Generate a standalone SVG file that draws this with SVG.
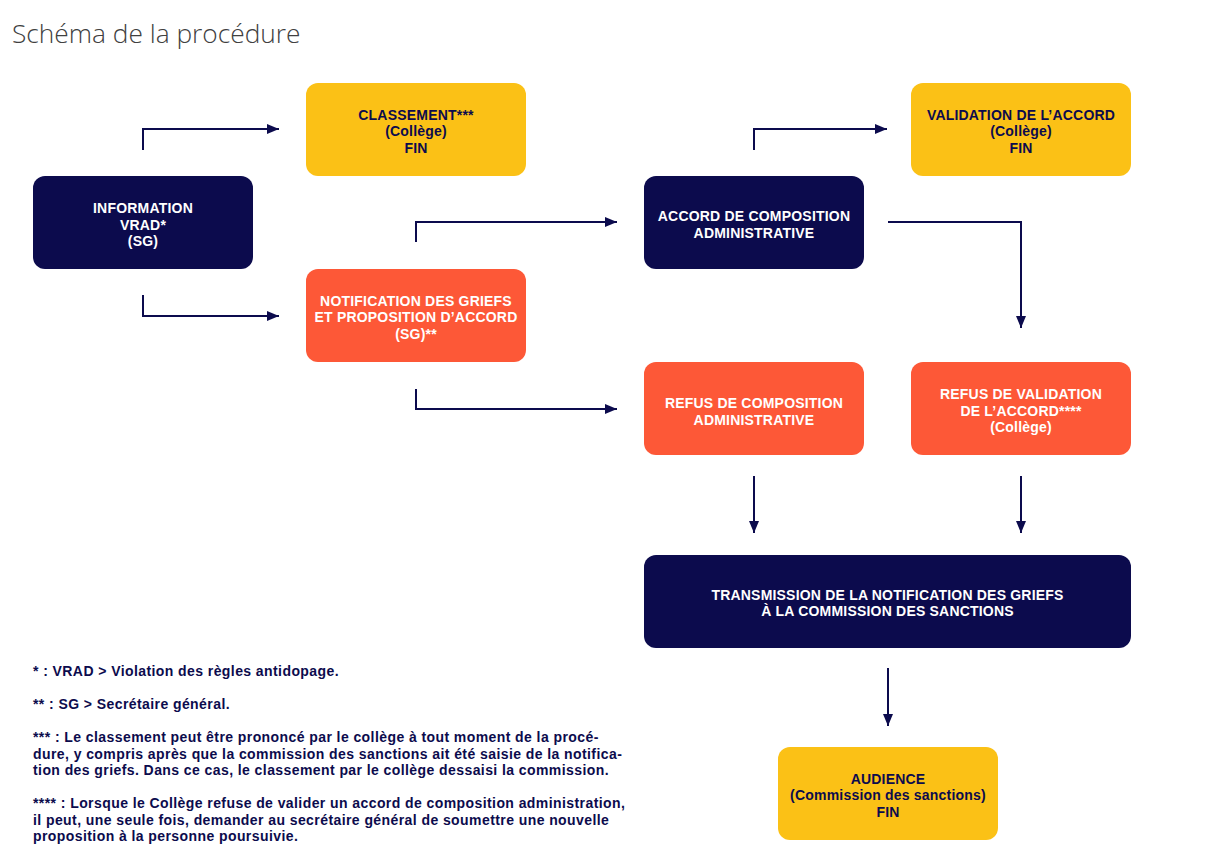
<svg xmlns="http://www.w3.org/2000/svg" width="1218" height="864" viewBox="0 0 1218 864">
<defs>
<marker id="ah" markerWidth="12" markerHeight="10" refX="12" refY="5" orient="auto" markerUnits="userSpaceOnUse">
<path d="M0,0 L12,5 L0,10 Z" fill="#0c0b4d"/>
</marker>
<style>
.navy{fill:#0c0b4d}
.yel{fill:#fbc116}
.red{fill:#fd5837}
.t{font-family:"Liberation Sans",Arial,sans-serif;font-weight:bold;font-size:14px;letter-spacing:0.2px;text-anchor:middle}
.w{fill:#ffffff}
.d{fill:#0c0b4d}
.c{fill:none;stroke:#0c0b4d;stroke-width:2;marker-end:url(#ah)}
.fn{font-family:"Liberation Sans",Arial,sans-serif;font-weight:bold;font-size:14px;letter-spacing:0.42px;fill:#0c0b4d}
</style>
</defs>
<rect width="1218" height="864" fill="#ffffff"/>
<text x="12" y="43" font-family="'Open Sans','Liberation Sans',sans-serif" font-weight="300" font-size="26.3" fill="#404040">Schéma de la procédure</text>

<g id="connectors">
<path class="c" d="M143,150 V129 H279"/>
<path class="c" d="M143,295 V316 H279"/>
<path class="c" d="M416,242 V222 H617"/>
<path class="c" d="M416,389 V409 H617"/>
<path class="c" d="M754,150 V129 H887"/>
<path class="c" d="M888,222 H1021 V328"/>
<path class="c" d="M754,476 V533"/>
<path class="c" d="M1021,476 V533"/>
<path class="c" d="M888,668 V726"/>
</g>

<g id="information">
<rect class="navy" x="33" y="176" width="220" height="93" rx="12"/>
<text class="t w" x="143" y="213">INFORMATION</text>
<text class="t w" x="143" y="229.5">VRAD*</text>
<text class="t w" x="143" y="246">(SG)</text>
</g>
<g id="classement">
<rect class="yel" x="306" y="83" width="220" height="93" rx="12"/>
<text class="t d" x="416" y="119.5">CLASSEMENT***</text>
<text class="t d" x="416" y="136">(Collège)</text>
<text class="t d" x="416" y="152.5">FIN</text>
</g>
<g id="notification">
<rect class="red" x="306" y="269" width="220" height="93" rx="12"/>
<text class="t w" x="416" y="305.5">NOTIFICATION DES GRIEFS</text>
<text class="t w" x="416" y="322">ET PROPOSITION D’ACCORD</text>
<text class="t w" x="416" y="338.5">(SG)**</text>
</g>
<g id="accord">
<rect class="navy" x="644" y="176" width="220" height="93" rx="12"/>
<text class="t w" x="754" y="221">ACCORD DE COMPOSITION</text>
<text class="t w" x="754" y="237.5">ADMINISTRATIVE</text>
</g>
<g id="validation">
<rect class="yel" x="911" y="83" width="220" height="93" rx="12"/>
<text class="t d" x="1021" y="119.5">VALIDATION DE L’ACCORD</text>
<text class="t d" x="1021" y="136">(Collège)</text>
<text class="t d" x="1021" y="152.5">FIN</text>
</g>
<g id="refus-composition">
<rect class="red" x="644" y="362" width="220" height="93" rx="12"/>
<text class="t w" x="754" y="408">REFUS DE COMPOSITION</text>
<text class="t w" x="754" y="424.5">ADMINISTRATIVE</text>
</g>
<g id="refus-validation">
<rect class="red" x="911" y="362" width="220" height="93" rx="12"/>
<text class="t w" x="1021" y="399">REFUS DE VALIDATION</text>
<text class="t w" x="1021" y="415.5">DE L’ACCORD****</text>
<text class="t w" x="1021" y="432">(Collège)</text>
</g>
<g id="transmission">
<rect class="navy" x="644" y="555" width="487" height="93" rx="12"/>
<text class="t w" x="887.5" y="599.5">TRANSMISSION DE LA NOTIFICATION DES GRIEFS</text>
<text class="t w" x="887.5" y="616">À LA COMMISSION DES SANCTIONS</text>
</g>
<g id="audience">
<rect class="yel" x="778" y="747" width="220" height="93" rx="12"/>
<text class="t d" x="888" y="783.5">AUDIENCE</text>
<text class="t d" x="888" y="800">(Commission des sanctions)</text>
<text class="t d" x="888" y="816.5">FIN</text>
</g>

<g id="footnotes">
<text class="fn" x="33" y="676">* : VRAD &gt; Violation des règles antidopage.</text>
<text class="fn" x="33" y="709">** : SG &gt; Secrétaire général.</text>
<text class="fn" x="33" y="742">*** : Le classement peut être prononcé par le collège à tout moment de la procé-</text>
<text class="fn" x="33" y="758.5">dure, y compris après que la commission des sanctions ait été saisie de la notifica-</text>
<text class="fn" x="33" y="775">tion des griefs. Dans ce cas, le classement par le collège dessaisi la commission.</text>
<text class="fn" x="33" y="808">**** : Lorsque le Collège refuse de valider un accord de composition administration,</text>
<text class="fn" x="33" y="824.5">il peut, une seule fois, demander au secrétaire général de soumettre une nouvelle</text>
<text class="fn" x="33" y="841">proposition à la personne poursuivie.</text>
</g>
</svg>
